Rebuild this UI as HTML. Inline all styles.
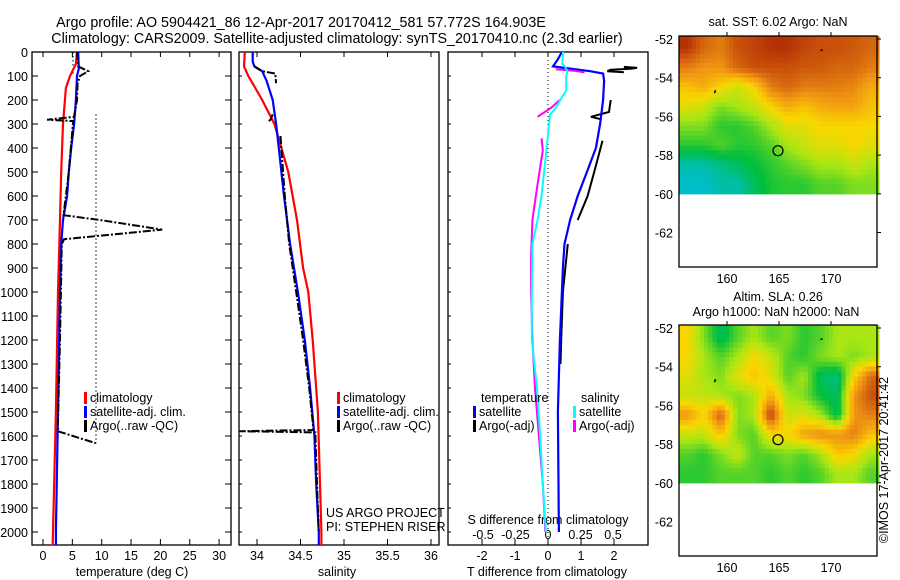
<!DOCTYPE html>
<html><head><meta charset="utf-8"><style>
body{margin:0;background:#fff}
svg{display:block;font-family:"Liberation Sans",sans-serif}
</style></head><body>
<svg id="s" width="900" height="580" xmlns="http://www.w3.org/2000/svg">
<text x="301" y="27" font-size="14.3" text-anchor="middle">Argo profile: AO 5904421_86 12-Apr-2017 20170412_581 57.772S 164.903E</text>
<text x="337" y="43" font-size="14.3" text-anchor="middle">Climatology: CARS2009. Satellite-adjusted climatology: synTS_20170410.nc (2.3d earlier)</text>
<g id="g"></g>
</svg>
<script>
// ---- data ----
const depthTicks=[0,100,200,300,400,500,600,700,800,900,1000,1100,1200,1300,1400,1500,1600,1700,1800,1900,2000];
const tempTicks=[0,5,10,15,20,25,30];
const salTicks=[34,34.5,35,35.5,36];
const tdTicks=[-2,-1,0,1,2];
const sdTicks=[-0.5,-0.25,0,0.25,0.5];
const latTicks=[-52,-54,-56,-58,-60,-62];
const lonTicks=[160,165,170];
const climTD=[0,50,100,150,300,500,700,1000,1500,2000,2054];
const climT=[5.8,5.6,4.6,3.9,3.4,3.1,2.9,2.55,2.2,1.7,1.65];
const satTD=[0,70,100,200,300,400,500,600,700,800,1000,1500,2000,2054];
const satT=[6.0,6.1,5.8,5.6,5.3,4.8,4.4,4.1,3.4,3.1,2.9,2.55,2.2,2.2];
const argoTD=[0,60,80,100,130,200,270,282,288,300,500,680,700,740,760,780,800,1200,1580,1630];
const argoT=[5.8,6.0,7.7,6.3,5.9,5.8,5.3,0.7,5.2,5.1,4.4,3.5,9.7,20.3,12,3.6,3.2,2.9,2.5,9.0];
const climSD=[0,60,100,150,200,250,300,400,500,700,900,1000,1200,1500,2000,2054];
const climS=[33.86,33.85,33.9,33.98,34.06,34.13,34.2,34.28,34.36,34.46,34.53,34.59,34.64,34.70,34.74,34.74];
const satSD=[0,40,60,80,120,200,300,400,600,800,1000,1200,1400,1600,1800,2000,2054];
const satS=[33.95,33.95,33.97,34.06,34.11,34.18,34.22,34.25,34.31,34.38,34.47,34.55,34.61,34.66,34.68,34.71,34.71];
const argoSD=[60,80,90,130,140,260,280,290,300,350,600,800,1000,1200,1400,1575,1580,1585,1800,2000];
const argoS=[33.97,34.06,34.21,34.22,NaN,34.18,34.16,34.13,NaN,34.27,34.32,34.37,34.45,34.53,34.6,34.65,33.8,34.67,34.69,34.71];
const dTsatD=[0,30,60,70,80,90,120,200,300,400,500,600,700,800,900,1000,1200,1500,2000];
const dTsat=[0.42,0.3,0.15,0.73,1.28,1.67,1.7,1.67,1.58,1.45,1.18,0.9,0.67,0.5,0.45,0.42,0.36,0.3,0.33];
const dTargoD=[62,66,70,74,80,84,90,200,250,270,280,290,370,500,600,700,720,800,1000,1200,1300];
const dTargo=[2.3,2.7,2.5,1.9,1.8,2.3,NaN,1.9,1.85,1.3,1.6,NaN,1.65,1.4,1.2,0.9,NaN,0.6,0.45,0.4,0.38];
const dSsatD=[0,50,60,80,100,160,240,260,345,450,600,700,800,1000,1200,1400,1600,1800,2000];
const dSsat=[0.115,0.11,0.13,0.15,0.14,0.14,0.05,0.015,0.0,-0.02,-0.05,-0.08,-0.12,-0.125,-0.125,-0.085,-0.06,-0.04,-0.015];
const dSargoD=[72,78,85,90,200,230,270,280,360,410,550,700,850,1000,1200,1400,1600,1800,2000];
const dSargo=[0.06,0.2,0.28,NaN,0.09,0.03,-0.08,NaN,-0.05,-0.04,-0.08,-0.12,-0.13,-0.13,-0.12,-0.1,-0.07,-0.04,-0.02];
const sstGrid=[
[0.95,0.85,0.8,0.9,0.92,0.95,0.95,0.92,0.9,0.9,0.88,0.85],
[0.8,0.75,0.75,0.85,0.9,0.9,0.9,0.88,0.88,0.85,0.85,0.8],
[0.65,0.7,0.6,0.5,0.6,0.8,0.85,0.8,0.8,0.8,0.78,0.7],
[0.55,0.5,0.4,0.45,0.5,0.6,0.7,0.65,0.7,0.72,0.72,0.65],
[0.4,0.4,0.3,0.3,0.35,0.45,0.55,0.55,0.6,0.6,0.6,0.6],
[0.3,0.3,0.35,0.3,0.3,0.35,0.45,0.5,0.55,0.55,0.6,0.55],
[0.1,0.1,0.15,0.2,0.25,0.3,0.35,0.4,0.45,0.45,0.5,0.45],
[0.05,0.05,0.1,0.1,0.2,0.28,0.3,0.3,0.35,0.35,0.4,0.4]];
const slaGrid=[
[0.6,0.4,0.2,0.35,0.45,0.35,0.4,0.3,0.35,0.45,0.45,0.45],
[0.6,0.45,0.35,0.45,0.6,0.5,0.35,0.3,0.4,0.45,0.4,0.45],
[0.55,0.45,0.4,0.55,0.65,0.55,0.35,0.45,0.2,0.15,0.6,0.85],
[0.5,0.5,0.45,0.4,0.45,0.7,0.45,0.4,0.25,0.2,0.75,0.9],
[0.75,0.6,0.88,0.4,0.45,0.95,0.5,0.55,0.45,0.2,0.75,0.8],
[0.5,0.5,0.65,0.4,0.35,0.6,0.6,0.72,0.78,0.75,0.8,0.65],
[0.35,0.3,0.4,0.5,0.35,0.35,0.4,0.35,0.45,0.65,0.6,0.45],
[0.3,0.3,0.35,0.35,0.35,0.3,0.35,0.3,0.35,0.45,0.45,0.35]];
const gridLon0=155.4, gridLonStep=1.6, gridLat0=-52;
const argoLon=164.903, argoLat=-57.772;

// ---- drawing ----
const NS="http://www.w3.org/2000/svg";const G=document.getElementById('g');
function el(t,a,txt){const e=document.createElementNS(NS,t);for(const k in a)e.setAttribute(k,a[k]);if(txt!==undefined)e.textContent=txt;G.appendChild(e);return e;}
const yD=d=>52+d*0.24;
const xT=v=>43+v*5.87, xS=v=>257+(v-34)*87, xTd=v=>548+v*33, xSd=v=>548+v*130;
function line(ds,vs,fx,col,w,dash,name){
  let p='',pen=false;
  ds.forEach((d,i)=>{const v=vs[i];if(isNaN(v)){pen=false;return;}p+=(pen?'L':'M')+fx(v).toFixed(1)+','+yD(d).toFixed(1);pen=true;});
  const e=el('path',{d:p,fill:'none',stroke:col,'stroke-width':w,'stroke-dasharray':dash||'none'});
  
  
}
function panel(x0,x1,name){
  const r=el('rect',{x:x0,y:52,width:x1-x0,height:493,fill:'none',stroke:'#000','stroke-width':1.3});
  
  
}
panel(32,231,'temperature-panel');panel(239,439,'salinity-panel');panel(448,648,'difference-panel');
depthTicks.forEach(d=>{el('line',{x1:32,x2:38,y1:yD(d),y2:yD(d),stroke:'#000'});el('line',{x1:225,x2:231,y1:yD(d),y2:yD(d),stroke:'#000'});
  const t=el('text',{x:28,y:yD(d)+5,'font-size':12.5,'text-anchor':'end'},d);
  
  });
[239,448].forEach(x0=>depthTicks.forEach(d=>el('line',{x1:x0,x2:x0+3,y1:yD(d),y2:yD(d),stroke:'#000'})));
function xticks(arr,fx,name){arr.forEach(v=>{const x=fx(v);el('line',{x1:x,x2:x,y1:545,y2:539,stroke:'#000'});el('line',{x1:x,x2:x,y1:52,y2:57,stroke:'#000'});
  const t=el('text',{x:x,y:560,'font-size':12.5,'text-anchor':'middle'},v);
  
  });}
xticks(tempTicks,xT,'temperature-tick-label');xticks(salTicks,xS,'salinity-tick-label');xticks(tdTicks,xTd,'tdiff-tick-label');
sdTicks.forEach(v=>{const t=el('text',{x:xSd(v),y:539,'font-size':12.5,'text-anchor':'middle'},v);
  
  });
el('text',{x:132,y:576,'font-size':12.5,'text-anchor':'middle'},'temperature (deg C)');
el('text',{x:337,y:576,'font-size':12.5,'text-anchor':'middle'},'salinity');
el('text',{x:547,y:576,'font-size':12.5,'text-anchor':'middle'},'T difference from climatology');
el('text',{x:548,y:524,'font-size':12.5,'text-anchor':'middle'},'S difference from climatology');
el('line',{x1:96,x2:96,y1:yD(260),y2:yD(1630),stroke:'#000','stroke-dasharray':'1.5,2.5'});
el('line',{x1:73,x2:73,y1:52,y2:yD(100),stroke:'#000','stroke-dasharray':'1.5,2.5'});
el('line',{x1:548,x2:548,y1:52,y2:545,stroke:'#000','stroke-dasharray':'1,3'});
line(climTD,climT,xT,'#f00',2.2,null,'temp-climatology-line');
line(satTD,satT,xT,'#00f',2.2,null,'temp-satellite-line');
line(argoTD,argoT,xT,'#000',2,'8,2,2,2','temp-argo-line');
line(climSD,climS,xS,'#f00',2.2,null,'sal-climatology-line');
line(satSD,satS,xS,'#00f',2.2,null,'sal-satellite-line');
line(argoSD,argoS,xS,'#000',2,'8,2,2,2','sal-argo-line');
line(dTargoD,dTargo,xTd,'#000',2,null,'tdiff-argo-line');
line(dTsatD,dTsat,xTd,'#00f',2.2,null,'tdiff-satellite-line');
line(dSargoD,dSargo,xSd,'#f0f',2,null,'sdiff-argo-line');
line(dSsatD,dSsat,xSd,'#0ff',2,null,'sdiff-satellite-line');
function leg(x,y,col,txt,name){el('rect',{x:x,y:y-10,width:3,height:12,fill:col});
  const t=el('text',{x:x+6,y:y,'font-size':12.5},txt);
  
  }
[['#f00','climatology'],['#00f','satellite-adj. clim.'],['#000','Argo(..raw -QC)']].forEach((a,i)=>leg(84,402+i*14,a[0],a[1],'legend-entry'));
[['#f00','climatology'],['#00f','satellite-adj. clim.'],['#000','Argo(..raw -QC)']].forEach((a,i)=>leg(337,402+i*14,a[0],a[1],'legend-entry'));
el('text',{x:481,y:402,'font-size':12.5},'temperature');el('text',{x:581,y:402,'font-size':12.5},'salinity');
leg(473,416,'#00f','satellite','legend-entry');leg(473,430,'#000','Argo(-adj)','legend-entry');
leg(573,416,'#0ff','satellite','legend-entry');leg(573,430,'#f0f','Argo(-adj)','legend-entry');
el('text',{x:326,y:517,'font-size':12.5},'US ARGO PROJECT');el('text',{x:326,y:531,'font-size':12.5},'PI: STEPHEN RISER');
function cmap(v){const st=[[0,[0,190,240]],[0.25,[0,190,60]],[0.45,[170,230,20]],[0.6,[250,215,0]],[0.75,[240,150,20]],[0.9,[200,80,10]],[1,[160,20,0]]];
  for(let i=1;i<st.length;i++){if(v<=st[i][0]){const a=st[i-1],b=st[i],t=(v-a[0])/(b[0]-a[0]);return 'rgb('+a[1].map((c,j)=>Math.round(c+(b[1][j]-c)*t)).join(',')+')';}}return 'rgb(160,20,0)';}
function sample(grid,r,c){const R=grid.length-1,C=grid[0].length-1;r=Math.max(0,Math.min(R,r));c=Math.max(0,Math.min(C,c));
  const r0=Math.floor(r),c0=Math.floor(c),r1=Math.min(R,r0+1),c1=Math.min(C,c0+1),fr=r-r0,fc=c-c0;
  return grid[r0][c0]*(1-fr)*(1-fc)+grid[r0][c1]*(1-fr)*fc+grid[r1][c0]*fr*(1-fc)+grid[r1][c1]*fr*fc;}
function map(y0,grid,name){
  const xL=v=>727+(v-160)*10.4, yL=v=>y0+3+(-52-v)*19.35;
  const sub=4, nr=grid.length, nc=grid[0].length;
  for(let i=0;i<nr*sub;i++)for(let j=0;j<nc*sub;j++){
    const v=sample(grid,(i+0.5)/sub-0.5,(j+0.5)/sub-0.5);
    const lonA=gridLon0+j*gridLonStep/sub, lonB=lonA+gridLonStep/sub;
    const latA=gridLat0-i/sub, latB=latA-1/sub;
    let x=xL(lonA), y=(i===0)?y0:yL(latA);
    const cell=el('rect',{x:x.toFixed(1),y:y.toFixed(1),width:(xL(lonB)-x+0.6).toFixed(1),height:(yL(latB)-y+0.6).toFixed(1),fill:cmap(v)});
    
    }
  const fr=el('rect',{x:679,y:y0,width:198,height:231,fill:'none',stroke:'#000','stroke-width':1.3});
  
  
  latTicks.forEach(l=>{el('line',{x1:877,x2:881,y1:yL(l),y2:yL(l),stroke:'#000'});
    const t=el('text',{x:673,y:yL(l)+5,'font-size':12.5,'text-anchor':'end'},l);
    
    });
  lonTicks.forEach(l=>{el('line',{x1:xL(l),x2:xL(l),y1:y0,y2:y0-4,stroke:'#000'});
    const t=el('text',{x:xL(l),y:y0+247,'font-size':12.5,'text-anchor':'middle'},l);
    
    });
  const m=el('circle',{cx:xL(argoLon),cy:yL(argoLat),r:5,fill:'none',stroke:'#000','stroke-width':1.2});
  
  
  el('path',{d:`M${xL(169)},${yL(-52.6)}l2,-1M${xL(158.8)},${yL(-54.8)}l1,-3`,stroke:'#000','stroke-width':1.5});
}
map(36,sstGrid,'sst-map');map(325,slaGrid,'sla-map');
el('text',{x:778,y:26,'font-size':12.5,'text-anchor':'middle'},'sat. SST: 6.02 Argo: NaN');
el('text',{x:778,y:301,'font-size':12.5,'text-anchor':'middle'},'Altim. SLA: 0.26');
el('text',{x:776,y:316,'font-size':12.5,'text-anchor':'middle'},'Argo h1000: NaN h2000: NaN');
el('text',{x:0,y:0,'font-size':12.5,'text-anchor':'middle',transform:'translate(888,460) rotate(-90)'},'©IMOS 17-Apr-2017 20:41:42');
</script>
</body></html>
